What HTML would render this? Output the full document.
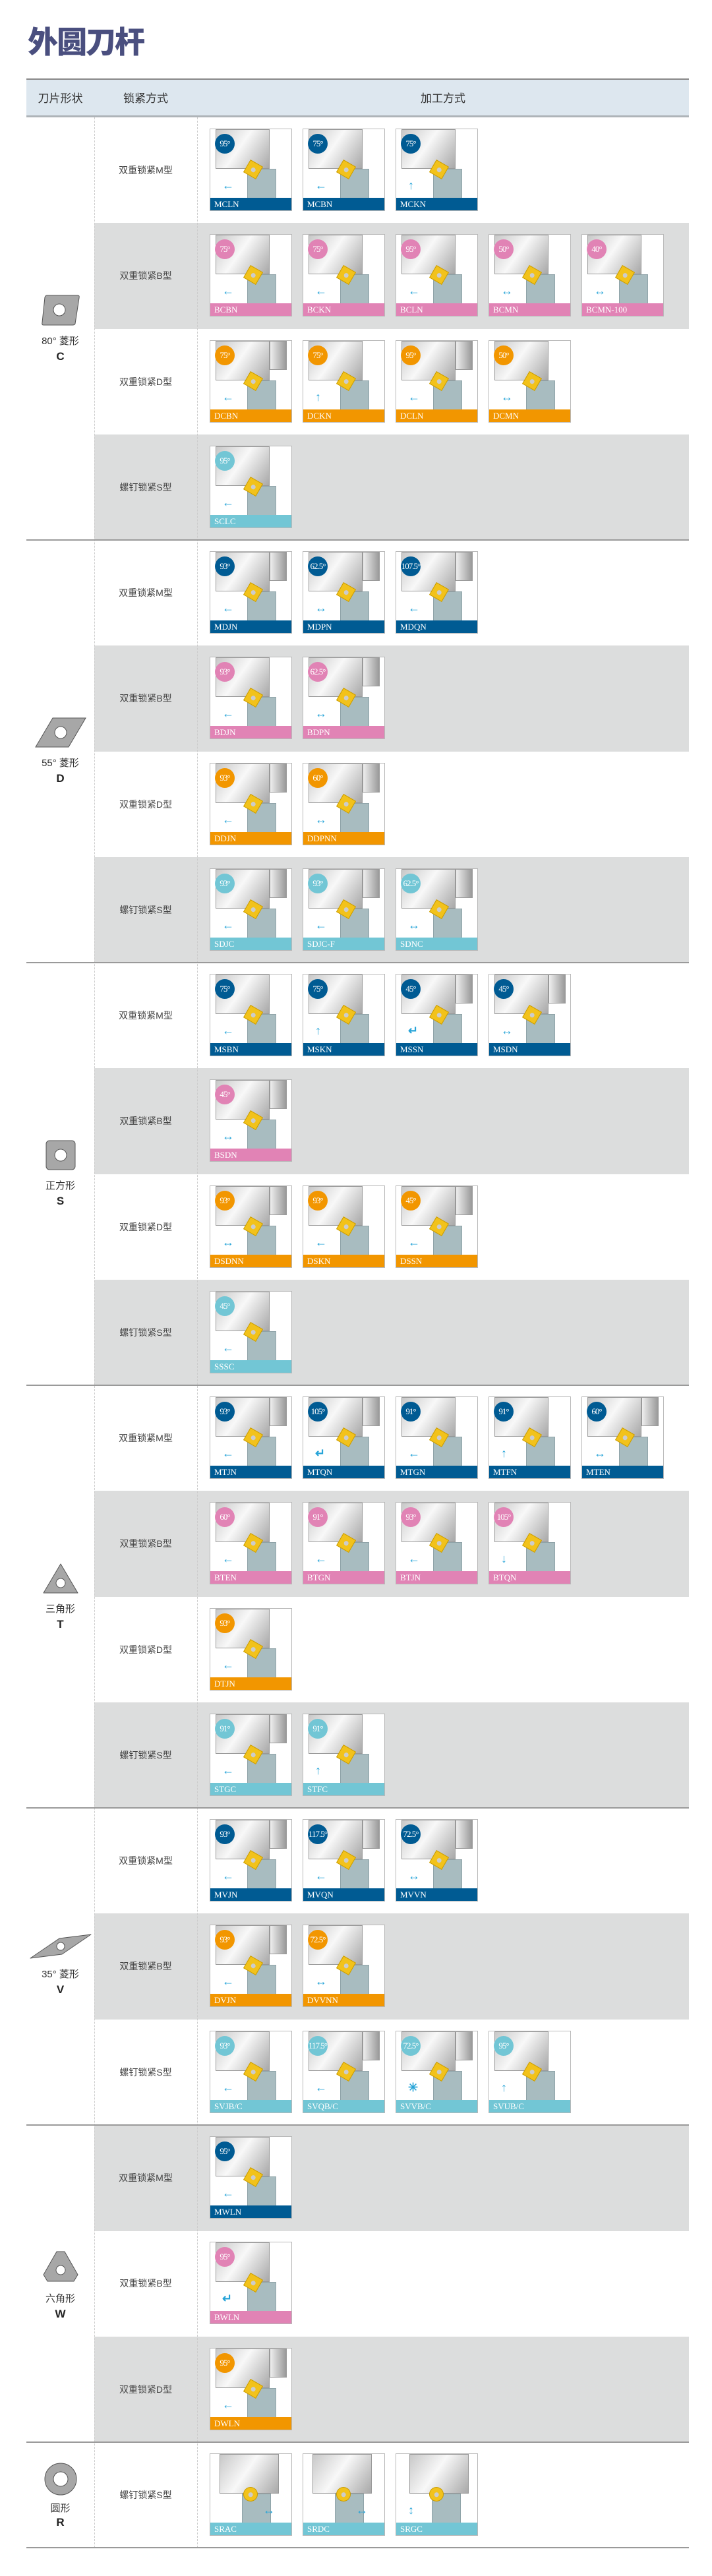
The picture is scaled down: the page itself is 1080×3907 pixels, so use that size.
<!DOCTYPE html>
<html><head><meta charset="utf-8"><style>
*{margin:0;padding:0;box-sizing:border-box}
body{width:1080px;height:3907px;background:#fff;position:relative;overflow:hidden;font-family:"Liberation Sans","Noto Sans CJK SC",sans-serif}
.t{position:absolute;left:42px;top:28px;font-size:46px;font-weight:900;color:#4a4f7f;letter-spacing:-2px;font-family:"Noto Sans CJK SC",sans-serif}
.hd{position:absolute;left:40px;top:119px;width:1005px;height:59px;background:#dde7ef;border-top:2px solid #888;border-bottom:3px solid #aeb4b8}
.hd span{position:absolute;top:14px;font-size:17px;color:#333;text-align:center}
.r{position:absolute;left:143px;width:902px;height:161px}
.g{background:#dcdddd}
.r .k{position:absolute;left:0;width:156px;top:70px;text-align:center;font-size:14px;color:#444}
.cd{position:absolute;top:17px;width:125px;height:125px;background:#fff;border:1px solid #b8b8b8;overflow:hidden}
.cd .w{position:absolute;left:8px;top:0;width:82px;height:60px;background:linear-gradient(125deg,#c8c8c8,#f8f8f8 45%,#a8a8a8);border:1px solid #999}
.cd .w2{position:absolute;left:90px;top:0;width:26px;height:44px;background:linear-gradient(90deg,#eee,#999);border:1px solid #999}
.cd .s{position:absolute;left:56px;top:60px;width:44px;height:46px;background:#a8bcc0;border:1px solid #8fa3a8}
.cd .n{position:absolute;left:54px;top:50px;width:22px;height:22px;background:#f2c21b;transform:rotate(30deg);border:1px solid #c99c00}
.cd .n:after{content:"";position:absolute;left:7px;top:7px;width:7px;height:7px;border-radius:50%;background:#ccc}
.cd .a{position:absolute;left:18px;top:76px;color:#27a4d8;font-size:18px;font-weight:bold;line-height:1}
.cd .c{position:absolute;left:7px;top:7px;width:30px;height:30px;border-radius:50%;color:#fff;font-size:13px;line-height:30px;text-align:center;font-family:"Liberation Serif",serif;letter-spacing:-1px}
.cd .l{position:absolute;left:0;bottom:0;width:100%;height:19px;color:#fff;font-size:13px;line-height:19px;padding-left:6px;font-family:"Liberation Serif",serif}
.m .c,.m .l{background:#005b93}.b .c,.b .l{background:#e183b5}.d .c,.d .l{background:#f29600}.s .c,.s .l{background:#72c6d5}
.ln{position:absolute;left:40px;width:1005px;height:2px;background:#9a9a9a}
.vl{position:absolute;top:178px;height:3686px;width:0;border-left:1px dashed #ccc}
.sh{position:absolute;left:40px;width:103px;text-align:center;color:#333}
.sh .p{font-size:15px;margin-top:6px}
.sh .q{font-size:17px;font-weight:bold;margin-top:4px;color:#222}
</style></head><body>
<div class="t">外圆刀杆</div>
<div class="hd"><span style="left:0;width:103px">刀片形状</span><span style="left:103px;width:156px">锁紧方式</span><span style="left:259px;width:746px">加工方式</span></div>

<div class="r" style="top:178px"><div class="k">双重锁紧M型</div>
<div class="cd m" style="left:175px"><i class="w"></i><i class="s"></i><i class="n"></i><b class="a">←</b><span class="c">95°</span><span class="l">MCLN</span></div>
<div class="cd m" style="left:316px"><i class="w"></i><i class="s"></i><i class="n"></i><b class="a">←</b><span class="c">75°</span><span class="l">MCBN</span></div>
<div class="cd m" style="left:457px"><i class="w"></i><i class="s"></i><i class="n"></i><b class="a">↑</b><span class="c">75°</span><span class="l">MCKN</span></div></div>

<div class="r g" style="top:338px"><div class="k">双重锁紧B型</div>
<div class="cd b" style="left:175px"><i class="w"></i><i class="s"></i><i class="n"></i><b class="a">←</b><span class="c">75°</span><span class="l">BCBN</span></div>
<div class="cd b" style="left:316px"><i class="w"></i><i class="s"></i><i class="n"></i><b class="a">←</b><span class="c">75°</span><span class="l">BCKN</span></div>
<div class="cd b" style="left:457px"><i class="w"></i><i class="s"></i><i class="n"></i><b class="a">←</b><span class="c">95°</span><span class="l">BCLN</span></div>
<div class="cd b" style="left:598px"><i class="w"></i><i class="s"></i><i class="n"></i><b class="a">↔</b><span class="c">50°</span><span class="l">BCMN</span></div>
<div class="cd b" style="left:739px"><i class="w"></i><i class="s"></i><i class="n"></i><b class="a">↔</b><span class="c">40°</span><span class="l">BCMN-100</span></div></div>

<div class="r" style="top:498.5px"><div class="k">双重锁紧D型</div>
<div class="cd d" style="left:175px"><i class="w"></i><i class="w2"></i><i class="s"></i><i class="n"></i><b class="a">←</b><span class="c">75°</span><span class="l">DCBN</span></div>
<div class="cd d" style="left:316px"><i class="w"></i><i class="s"></i><i class="n"></i><b class="a">↑</b><span class="c">75°</span><span class="l">DCKN</span></div>
<div class="cd d" style="left:457px"><i class="w"></i><i class="w2"></i><i class="s"></i><i class="n"></i><b class="a">←</b><span class="c">95°</span><span class="l">DCLN</span></div>
<div class="cd d" style="left:598px"><i class="w"></i><i class="s"></i><i class="n"></i><b class="a">↔</b><span class="c">50°</span><span class="l">DCMN</span></div></div>

<div class="r g" style="top:658.8px"><div class="k">螺钉锁紧S型</div>
<div class="cd s" style="left:175px"><i class="w"></i><i class="s"></i><i class="n"></i><b class="a">←</b><span class="c">95°</span><span class="l">SCLC</span></div></div>

<div class="r" style="top:819px"><div class="k">双重锁紧M型</div>
<div class="cd m" style="left:175px"><i class="w"></i><i class="w2"></i><i class="s"></i><i class="n"></i><b class="a">←</b><span class="c">93°</span><span class="l">MDJN</span></div>
<div class="cd m" style="left:316px"><i class="w"></i><i class="w2"></i><i class="s"></i><i class="n"></i><b class="a">↔</b><span class="c">62.5°</span><span class="l">MDPN</span></div>
<div class="cd m" style="left:457px"><i class="w"></i><i class="w2"></i><i class="s"></i><i class="n"></i><b class="a">←</b><span class="c">107.5°</span><span class="l">MDQN</span></div></div>

<div class="r g" style="top:979.3px"><div class="k">双重锁紧B型</div>
<div class="cd b" style="left:175px"><i class="w"></i><i class="s"></i><i class="n"></i><b class="a">←</b><span class="c">93°</span><span class="l">BDJN</span></div>
<div class="cd b" style="left:316px"><i class="w"></i><i class="w2"></i><i class="s"></i><i class="n"></i><b class="a">↔</b><span class="c">62.5°</span><span class="l">BDPN</span></div></div>

<div class="r" style="top:1139.6px"><div class="k">双重锁紧D型</div>
<div class="cd d" style="left:175px"><i class="w"></i><i class="w2"></i><i class="s"></i><i class="n"></i><b class="a">←</b><span class="c">93°</span><span class="l">DDJN</span></div>
<div class="cd d" style="left:316px"><i class="w"></i><i class="w2"></i><i class="s"></i><i class="n"></i><b class="a">↔</b><span class="c">60°</span><span class="l">DDPNN</span></div></div>

<div class="r g" style="top:1299.8px"><div class="k">螺钉锁紧S型</div>
<div class="cd s" style="left:175px"><i class="w"></i><i class="w2"></i><i class="s"></i><i class="n"></i><b class="a">←</b><span class="c">93°</span><span class="l">SDJC</span></div>
<div class="cd s" style="left:316px"><i class="w"></i><i class="w2"></i><i class="s"></i><i class="n"></i><b class="a">←</b><span class="c">93°</span><span class="l">SDJC-F</span></div>
<div class="cd s" style="left:457px"><i class="w"></i><i class="w2"></i><i class="s"></i><i class="n"></i><b class="a">↔</b><span class="c">62.5°</span><span class="l">SDNC</span></div></div>

<div class="r" style="top:1460.1px"><div class="k">双重锁紧M型</div>
<div class="cd m" style="left:175px"><i class="w"></i><i class="s"></i><i class="n"></i><b class="a">←</b><span class="c">75°</span><span class="l">MSBN</span></div>
<div class="cd m" style="left:316px"><i class="w"></i><i class="s"></i><i class="n"></i><b class="a">↑</b><span class="c">75°</span><span class="l">MSKN</span></div>
<div class="cd m" style="left:457px"><i class="w"></i><i class="w2"></i><i class="s"></i><i class="n"></i><b class="a">↵</b><span class="c">45°</span><span class="l">MSSN</span></div>
<div class="cd m" style="left:598px"><i class="w"></i><i class="w2"></i><i class="s"></i><i class="n"></i><b class="a">↔</b><span class="c">45°</span><span class="l">MSDN</span></div></div>

<div class="r g" style="top:1620.3px"><div class="k">双重锁紧B型</div>
<div class="cd b" style="left:175px"><i class="w"></i><i class="w2"></i><i class="s"></i><i class="n"></i><b class="a">↔</b><span class="c">45°</span><span class="l">BSDN</span></div></div>

<div class="r" style="top:1780.6px"><div class="k">双重锁紧D型</div>
<div class="cd d" style="left:175px"><i class="w"></i><i class="w2"></i><i class="s"></i><i class="n"></i><b class="a">↔</b><span class="c">93°</span><span class="l">DSDNN</span></div>
<div class="cd d" style="left:316px"><i class="w"></i><i class="s"></i><i class="n"></i><b class="a">←</b><span class="c">93°</span><span class="l">DSKN</span></div>
<div class="cd d" style="left:457px"><i class="w"></i><i class="w2"></i><i class="s"></i><i class="n"></i><b class="a">←</b><span class="c">45°</span><span class="l">DSSN</span></div></div>

<div class="r g" style="top:1940.9px"><div class="k">螺钉锁紧S型</div>
<div class="cd s" style="left:175px"><i class="w"></i><i class="s"></i><i class="n"></i><b class="a">←</b><span class="c">45°</span><span class="l">SSSC</span></div></div>

<div class="r" style="top:2101.1px"><div class="k">双重锁紧M型</div>
<div class="cd m" style="left:175px"><i class="w"></i><i class="w2"></i><i class="s"></i><i class="n"></i><b class="a">←</b><span class="c">93°</span><span class="l">MTJN</span></div>
<div class="cd m" style="left:316px"><i class="w"></i><i class="w2"></i><i class="s"></i><i class="n"></i><b class="a">↵</b><span class="c">105°</span><span class="l">MTQN</span></div>
<div class="cd m" style="left:457px"><i class="w"></i><i class="s"></i><i class="n"></i><b class="a">←</b><span class="c">91°</span><span class="l">MTGN</span></div>
<div class="cd m" style="left:598px"><i class="w"></i><i class="s"></i><i class="n"></i><b class="a">↑</b><span class="c">91°</span><span class="l">MTFN</span></div>
<div class="cd m" style="left:739px"><i class="w"></i><i class="w2"></i><i class="s"></i><i class="n"></i><b class="a">↔</b><span class="c">60°</span><span class="l">MTEN</span></div></div>

<div class="r g" style="top:2261.4px"><div class="k">双重锁紧B型</div>
<div class="cd b" style="left:175px"><i class="w"></i><i class="s"></i><i class="n"></i><b class="a">←</b><span class="c">60°</span><span class="l">BTEN</span></div>
<div class="cd b" style="left:316px"><i class="w"></i><i class="s"></i><i class="n"></i><b class="a">←</b><span class="c">91°</span><span class="l">BTGN</span></div>
<div class="cd b" style="left:457px"><i class="w"></i><i class="s"></i><i class="n"></i><b class="a">←</b><span class="c">93°</span><span class="l">BTJN</span></div>
<div class="cd b" style="left:598px"><i class="w"></i><i class="s"></i><i class="n"></i><b class="a">↓</b><span class="c">105°</span><span class="l">BTQN</span></div></div>

<div class="r" style="top:2421.6px"><div class="k">双重锁紧D型</div>
<div class="cd d" style="left:175px"><i class="w"></i><i class="s"></i><i class="n"></i><b class="a">←</b><span class="c">93°</span><span class="l">DTJN</span></div></div>

<div class="r g" style="top:2581.9px"><div class="k">螺钉锁紧S型</div>
<div class="cd s" style="left:175px"><i class="w"></i><i class="w2"></i><i class="s"></i><i class="n"></i><b class="a">←</b><span class="c">91°</span><span class="l">STGC</span></div>
<div class="cd s" style="left:316px"><i class="w"></i><i class="s"></i><i class="n"></i><b class="a">↑</b><span class="c">91°</span><span class="l">STFC</span></div></div>

<div class="r" style="top:2742.2px"><div class="k">双重锁紧M型</div>
<div class="cd m" style="left:175px"><i class="w"></i><i class="w2"></i><i class="s"></i><i class="n"></i><b class="a">←</b><span class="c">93°</span><span class="l">MVJN</span></div>
<div class="cd m" style="left:316px"><i class="w"></i><i class="w2"></i><i class="s"></i><i class="n"></i><b class="a">←</b><span class="c">117.5°</span><span class="l">MVQN</span></div>
<div class="cd m" style="left:457px"><i class="w"></i><i class="w2"></i><i class="s"></i><i class="n"></i><b class="a">↔</b><span class="c">72.5°</span><span class="l">MVVN</span></div></div>

<div class="r g" style="top:2902.4px"><div class="k">双重锁紧B型</div>
<div class="cd d" style="left:175px"><i class="w"></i><i class="w2"></i><i class="s"></i><i class="n"></i><b class="a">←</b><span class="c">93°</span><span class="l">DVJN</span></div>
<div class="cd d" style="left:316px"><i class="w"></i><i class="s"></i><i class="n"></i><b class="a">↔</b><span class="c">72.5°</span><span class="l">DVVNN</span></div></div>

<div class="r" style="top:3062.7px"><div class="k">螺钉锁紧S型</div>
<div class="cd s" style="left:175px"><i class="w"></i><i class="s"></i><i class="n"></i><b class="a">←</b><span class="c">93°</span><span class="l">SVJB/C</span></div>
<div class="cd s" style="left:316px"><i class="w"></i><i class="w2"></i><i class="s"></i><i class="n"></i><b class="a">←</b><span class="c">117.5°</span><span class="l">SVQB/C</span></div>
<div class="cd s" style="left:457px"><i class="w"></i><i class="w2"></i><i class="s"></i><i class="n"></i><b class="a">✳</b><span class="c">72.5°</span><span class="l">SVVB/C</span></div>
<div class="cd s" style="left:598px"><i class="w"></i><i class="s"></i><i class="n"></i><b class="a">↑</b><span class="c">95°</span><span class="l">SVUB/C</span></div></div>

<div class="r g" style="top:3222.9px"><div class="k">双重锁紧M型</div>
<div class="cd m" style="left:175px"><i class="w"></i><i class="s"></i><i class="n"></i><b class="a">←</b><span class="c">95°</span><span class="l">MWLN</span></div></div>

<div class="r" style="top:3383.2px"><div class="k">双重锁紧B型</div>
<div class="cd b" style="left:175px"><i class="w"></i><i class="s"></i><i class="n"></i><b class="a">↵</b><span class="c">95°</span><span class="l">BWLN</span></div></div>

<div class="r g" style="top:3543.5px"><div class="k">双重锁紧D型</div>
<div class="cd d" style="left:175px"><i class="w"></i><i class="w2"></i><i class="s"></i><i class="n"></i><b class="a">←</b><span class="c">95°</span><span class="l">DWLN</span></div></div>

<div class="r" style="top:3703.7px"><div class="k">螺钉锁紧S型</div>
<div class="cd s" style="left:175px"><i class="w" style="left:14px;width:90px"></i><i class="s" style="left:48px"></i><i class="n" style="border-radius:50%;left:50px"></i><b class="a" style="left:80px">↔</b><span class="l">SRAC</span></div>
<div class="cd s" style="left:316px"><i class="w" style="left:14px;width:90px"></i><i class="s" style="left:48px"></i><i class="n" style="border-radius:50%;left:50px"></i><b class="a" style="left:80px">↔</b><span class="l">SRDC</span></div>
<div class="cd s" style="left:457px"><i class="w" style="left:20px;width:90px"></i><i class="s" style="left:54px"></i><i class="n" style="border-radius:50%;left:50px"></i><b class="a">↕</b><span class="l">SRGC</span></div></div>

<div class="vl" style="left:143px"></div>
<div class="vl" style="left:299px"></div>
<div class="ln" style="top:818px"></div>
<div class="ln" style="top:1459px"></div>
<div class="ln" style="top:2100px"></div>
<div class="ln" style="top:2741px"></div>
<div class="ln" style="top:3222px"></div>
<div class="ln" style="top:3703px"></div>
<div class="ln" style="top:3863px"></div>

<div class="sh" style="top:445px"><svg width="60" height="50" viewBox="0 0 60 50"><path d="M9 3 L56 3 Q59 3 58 7 L52 46 Q51 48 48 48 L4 48 Q1 48 2 44 L6 6 Q7 3 9 3Z" fill="#a7a7a7" stroke="#555"/><circle cx="28" cy="25" r="9" fill="#fff" stroke="#555"/></svg><div class="p">80° 菱形</div><div class="q">C</div></div>
<div class="sh" style="top:1087px"><svg width="80" height="48" viewBox="0 0 80 48"><path d="M28 2 L78 2 L52 46 L2 46Z" fill="#a7a7a7" stroke="#555"/><circle cx="40" cy="24" r="9" fill="#fff" stroke="#555"/></svg><div class="p">55° 菱形</div><div class="q">D</div></div>
<div class="sh" style="top:1728px"><svg width="48" height="48" viewBox="0 0 48 48"><rect x="2" y="2" width="44" height="44" rx="5" fill="#a7a7a7" stroke="#555"/><circle cx="24" cy="24" r="9" fill="#fff" stroke="#555"/></svg><div class="p">正方形</div><div class="q">S</div></div>
<div class="sh" style="top:2370px"><svg width="56" height="48" viewBox="0 0 56 48"><path d="M28 2 L54 46 L2 46Z" fill="#a7a7a7" stroke="#555" stroke-linejoin="round"/><circle cx="28" cy="31" r="7" fill="#fff" stroke="#555"/></svg><div class="p">三角形</div><div class="q">T</div></div>
<div class="sh" style="top:2932px"><svg width="96" height="40" viewBox="0 0 96 40"><path d="M2 38 L46 8 L94 2 L50 32 Z" fill="#a7a7a7" stroke="#555" stroke-linejoin="round"/><circle cx="48" cy="20" r="6" fill="#fff" stroke="#555"/></svg><div class="p">35° 菱形</div><div class="q">V</div></div>
<div class="sh" style="top:3412px"><svg width="56" height="52" viewBox="0 0 56 52"><path d="M22 3 L34 3 L54 38 L48 48 L8 48 L2 38Z" fill="#a7a7a7" stroke="#555" stroke-linejoin="round"/><circle cx="28" cy="31" r="7" fill="#fff" stroke="#555"/></svg><div class="p">六角形</div><div class="q">W</div></div>
<div class="sh" style="top:3734px"><svg width="52" height="52" viewBox="0 0 52 52"><circle cx="26" cy="26" r="24" fill="#a7a7a7" stroke="#555"/><circle cx="26" cy="26" r="11" fill="#fff" stroke="#555"/></svg><div class="p" style="margin-top:2px">圆形</div><div class="q" style="margin-top:2px">R</div></div>
</body></html>
